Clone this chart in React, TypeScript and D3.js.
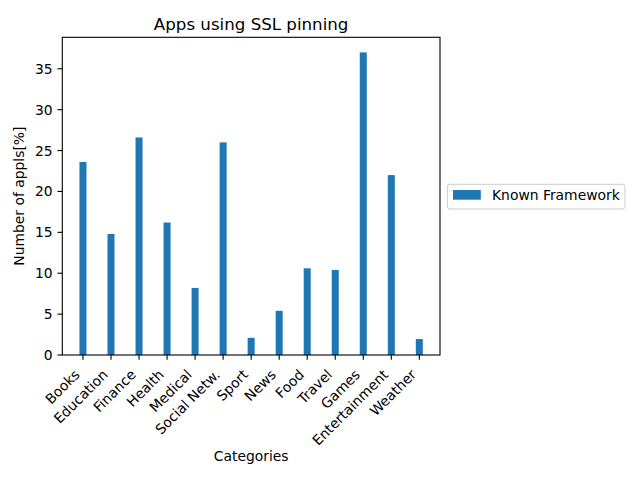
import React from "react";
import * as d3 from "d3";

const categories = [
  "Books", "Education", "Finance", "Health", "Medical", "Social Netw.",
  "Sport", "News", "Food", "Travel", "Games", "Entertainment", "Weather",
];
const knownFramework = [23.6, 14.8, 26.6, 16.2, 8.2, 26.0, 2.1, 5.4, 10.6, 10.4, 37.0, 22.0, 1.95];
const yTicks = [0, 5, 10, 15, 20, 25, 30, 35];

const W = 640;
const H = 480;
const left = 62.3;
const right = 440;
const top = 37.3;
const bottom = 355;
const barWidth = 0.25;
const color = "#1f77b4";
const font = "DejaVu Sans, sans-serif";
const fs = 13.89;

export default function App() {
  const n = categories.length;
  const pad = (n - 1 + barWidth) * 0.05;
  const x = d3.scaleLinear().domain([-barWidth / 2 - pad, n - 1 + barWidth / 2 + pad]).range([left, right]);
  const ymax = (d3.max(knownFramework) as number) * 1.05;
  const y = d3.scaleLinear().domain([0, ymax]).range([bottom, top]);
  const bw = x(barWidth) - x(0);
  const tl = 4.86;
  const lblOff = 9.72 + 11.3;

  return (
    <svg width={W} height={H} style={{ position: "absolute", left: 0, top: 0, background: "#fff" }} fontFamily={font}>
      <rect x={0} y={0} width={W} height={H} fill="#fff" />
      {knownFramework.map((v, i) => (
        <rect key={i} x={x(i) - bw / 2} y={y(v)} width={bw} height={y(0) - y(v)} fill={color} />
      ))}
      <rect x={left} y={top} width={right - left} height={bottom - top} fill="none" stroke="#000" strokeWidth={1.1} />
      {yTicks.map((t) => (
        <g key={t}>
          <line x1={left - tl} x2={left} y1={y(t)} y2={y(t)} stroke="#000" strokeWidth={1.1} />
          <text x={left - 9.72} y={y(t)} dy="0.36em" textAnchor="end" fontSize={fs} fill="#000">
            {t}
          </text>
        </g>
      ))}
      {categories.map((c, i) => {
        const tx = x(i);
        const ax = tx - 2.3;
        const ay = bottom + lblOff - 0.5;
        return (
          <g key={c}>
            <line x1={tx} x2={tx} y1={bottom} y2={bottom + tl} stroke="#000" strokeWidth={1.1} />
            <text x={ax} y={ay} textAnchor="end" fontSize={fs} fill="#000" transform={`rotate(-45 ${ax} ${ay})`}>
              {c}
            </text>
          </g>
        );
      })}
      <text x={(left + right) / 2} y={30} textAnchor="middle" fontSize={16.67} fill="#000">
        Apps using SSL pinning
      </text>
      <text x={(left + right) / 2} y={461} textAnchor="middle" fontSize={fs} fill="#000">
        Categories
      </text>
      <text
        x={24.5}
        y={(top + bottom) / 2}
        textAnchor="middle"
        fontSize={fs}
        fill="#000"
        transform={`rotate(-90 24.5 ${(top + bottom) / 2})`}
      >
        Number of appls[%]
      </text>
      <g>
        <rect x={447.3} y={184.3} width={177.7} height={24.7} rx={2.8} fill="#fff" fillOpacity={0.8} stroke="#cccccc" strokeWidth={1} />
        <rect x={453} y={190} width={27.8} height={9.7} fill={color} />
        <text x={492} y={200} fontSize={fs} fill="#000">
          Known Framework
        </text>
      </g>
    </svg>
  );
}
